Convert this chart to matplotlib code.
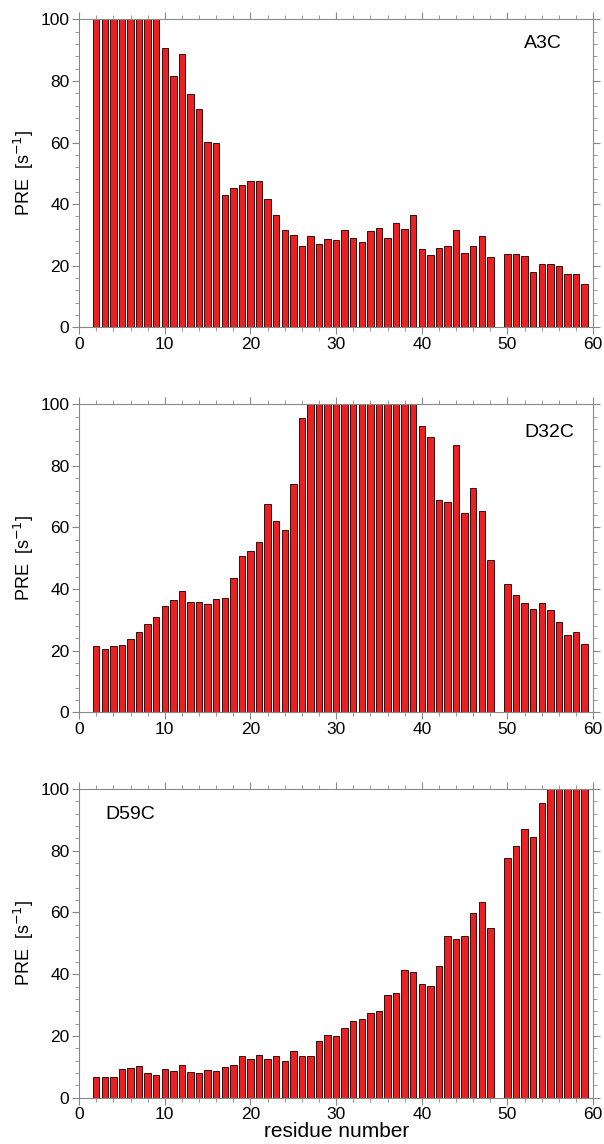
import numpy as np
import matplotlib
matplotlib.use("Agg")
import matplotlib.pyplot as plt
from matplotlib.ticker import MultipleLocator

plt.rcParams['font.family'] = ['Liberation Sans', 'DejaVu Sans']

residues = np.arange(2, 60)
nan = np.nan

# PRE rates (s^-1), residues 2..59, residue 49 missing; values clipped at 100
pre_a3c = [100, 100, 100, 100, 100, 100, 100, 100,
           90.8, 81.7, 88.6, 75.8, 70.9, 60.2, 59.7, 43.0, 45.3, 46.3,
           47.5, 47.6, 41.6, 36.6, 31.6, 30.0, 26.4, 29.5, 27.1, 28.6,
           28.4, 31.6, 29.1, 27.8, 31.3, 32.3, 29.0, 33.8, 31.9, 36.6,
           25.3, 23.6, 25.9, 26.3, 31.5, 24.1, 26.4, 29.8, 22.8, nan,
           23.9, 23.9, 23.1, 18.0, 20.6, 20.6, 20.0, 17.4, 17.3, 13.9]
pre_d32c = [21.4, 20.5, 21.6, 21.9, 23.9, 26.2, 28.8, 31.0,
            34.6, 36.6, 39.4, 35.8, 35.9, 35.3, 36.9, 37.2, 43.7, 50.8,
            52.5, 55.3, 67.5, 62.1, 59.2, 74.0, 95.5, 100, 100, 100,
            100, 100, 100, 100, 100, 100, 100, 100, 100, 100,
            93.0, 89.5, 68.9, 68.3, 86.7, 64.8, 72.7, 65.3, 49.4, nan,
            41.6, 38.0, 35.6, 33.5, 35.6, 33.2, 29.2, 25.2, 26.0, 22.3]
pre_d59c = [6.7, 6.7, 6.6, 9.3, 9.5, 10.3, 8.0, 7.5,
            9.2, 8.6, 10.6, 8.4, 7.9, 8.9, 8.6, 10.0, 10.7, 13.5,
            12.4, 13.9, 12.6, 13.6, 11.9, 15.0, 13.6, 13.6, 18.5, 20.4,
            20.0, 22.6, 24.8, 25.6, 27.4, 28.0, 33.4, 33.9, 41.4, 40.6,
            36.7, 36.3, 42.5, 52.5, 51.5, 52.4, 59.9, 63.3, 54.9, nan,
            77.5, 81.5, 87.0, 84.4, 95.6, 100, 100, 100, 100, 100]

panels = [
    ("A3C", pre_a3c, [0.131, 0.7139, 0.851, 0.2692], (0.903, 0.922)),
    ("D32C", pre_d32c, [0.131, 0.3774, 0.851, 0.2692], (0.915, 0.909)),
    ("D59C", pre_d59c, [0.131, 0.0405, 0.851, 0.2698], (0.10, 0.916)),
]

fig = plt.figure(figsize=(6.04, 11.44), dpi=100)
grey = '#888888'

for name, vals, rect, lpos in panels:
    ax = fig.add_axes(rect)
    ax.bar(residues, vals, width=0.75, color='#e82222',
           edgecolor='#3a0a0a', linewidth=0.7)
    ax.set_xlim(0, 60)
    ax.set_ylim(0, 100)
    ax.xaxis.set_major_locator(MultipleLocator(10))
    ax.xaxis.set_minor_locator(MultipleLocator(2))
    ax.yaxis.set_major_locator(MultipleLocator(20))
    ax.yaxis.set_minor_locator(MultipleLocator(4))
    ax.tick_params(which='both', direction='out', top=True, right=True,
                   color=grey, labelsize=12.5, pad=2)
    ax.tick_params(which='major', length=5)
    ax.tick_params(which='minor', length=3)
    for s in ax.spines.values():
        s.set_color(grey)
        s.set_linewidth(0.8)
    ax.set_ylabel("PRE  [s$^{-1}$]", fontsize=13, labelpad=3)
    ax.text(lpos[0], lpos[1], name, transform=ax.transAxes,
            ha='center', va='center', fontsize=14)

ax.set_xlabel("residue number", fontsize=15, labelpad=0)

fig.savefig("out.png", dpi=100)
